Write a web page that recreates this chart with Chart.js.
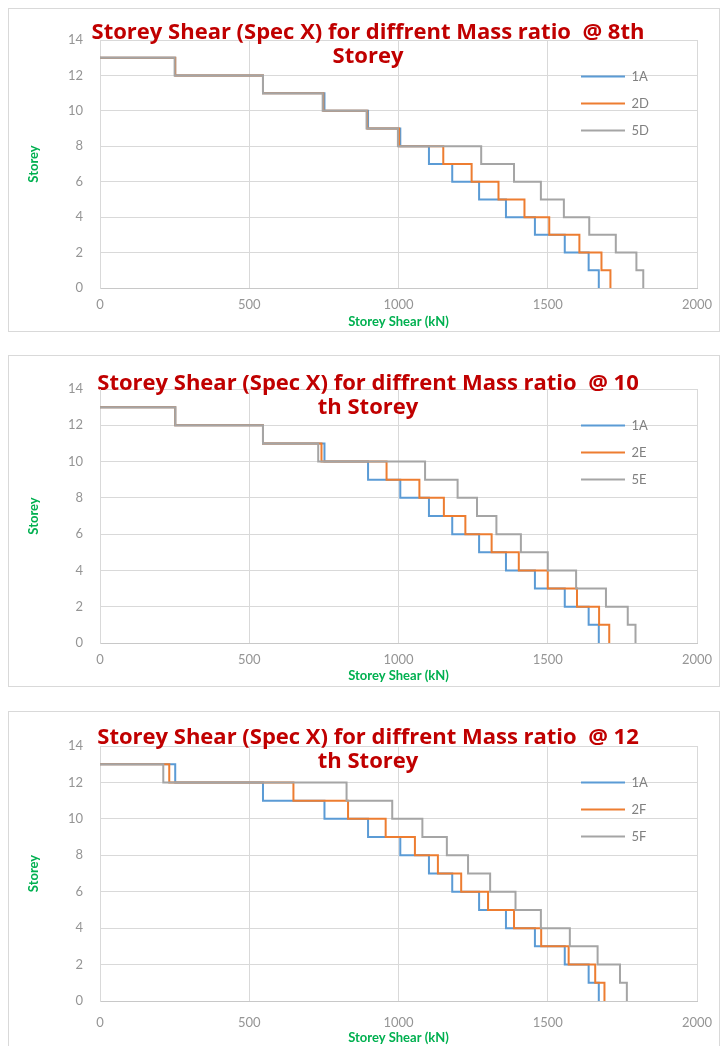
<!DOCTYPE html>
<html>
<head>
<meta charset="utf-8">
<title>Storey Shear (Spec X) for diffrent Mass ratio</title>
<script src="https://cdn.jsdelivr.net/npm/chart.js@4.4.1/dist/chart.umd.min.js"></script>
<style>
  html, body { margin: 0; padding: 0; background: #fff; }
  body { width: 720px; height: 1046px; position: relative; overflow: hidden; }
  .box { position: absolute; left: 8px; width: 712px; border: 1px solid #d9d9d9; box-sizing: border-box; background: #fff; }
  .box canvas { display: block; }
</style>
</head>
<body>
<div class="box" style="top:8px;height:324px"><canvas id="chart8"></canvas></div>
<div class="box" style="top:355px;height:332px"><canvas id="chart10"></canvas></div>
<div class="box" style="top:711px;height:345px"><canvas id="chart12"></canvas></div>
<script>
// Roof level: every line starts here at 0 kN
const roofStorey = 13;
// Storey reached after each step down
const storeys = [12, 11, 10, 9, 8, 7, 6, 5, 4, 3, 2, 1, 0];

// Storey shear (kN) where each step drops, top to bottom
const shear1A = [252, 546, 752, 898, 1006, 1102, 1180, 1270, 1360, 1457, 1557, 1637, 1671];
const shear2D = [252, 546, 748, 895, 1002, 1150, 1245, 1335, 1422, 1505, 1606, 1680, 1710];
const shear5D = [250, 546, 746, 893, 998, 1277, 1387, 1477, 1554, 1639, 1728, 1797, 1820];
const shear2E = [252, 546, 742, 960, 1070, 1152, 1224, 1312, 1403, 1500, 1598, 1672, 1706];
const shear5E = [252, 546, 731, 1089, 1198, 1263, 1328, 1410, 1500, 1595, 1695, 1768, 1794];
const shear2F = [232, 648, 831, 957, 1055, 1132, 1210, 1300, 1387, 1478, 1570, 1659, 1690];
const shear5F = [212, 826, 979, 1080, 1162, 1233, 1307, 1392, 1477, 1574, 1667, 1742, 1765];

const xTicks = [0, 500, 1000, 1500, 2000];
const yTicks = [0, 2, 4, 6, 8, 10, 12, 14];

const colors = ['#5B9BD5', '#ED7D31', '#A5A5A5'];

Chart.defaults.font.family = 'Lato';
Chart.defaults.animation = false;

function stepPoints(shear) {
    const pts = [{ x: 0, y: roofStorey }];
    storeys.forEach((s, i) => pts.push({ x: shear[i], y: s }));
    return pts;
}

// Legend inside the plot (top right) and title nudged right, like the Excel chart
const excelPlacement = {
    id: 'excelPlacement',
    afterLayout(chart) {
        const lg = chart.legend;
        const area = chart.chartArea;
        lg.left = area.right - 130;
        lg.right = area.right;
        lg.top = area.top + 16;
        lg.bottom = area.bottom;
        chart.titleBlock.left = 0;
        chart.titleBlock.right = chart.width + 8;
    }
};

function makeChart(id, titleLines, labels, series, lay) {
    const ctx = document.getElementById(id).getContext('2d');
    return new Chart(ctx, {
        type: 'scatter',
        data: {
            datasets: series.map((s, i) => ({
                label: labels[i],
                data: stepPoints(s),
                showLine: true,
                stepped: true,
                borderColor: colors[i],
                backgroundColor: colors[i],
                borderWidth: 2,
                pointRadius: 0,
                pointHoverRadius: 0,
                order: series.length - i
            }))
        },
        options: {
            responsive: true,
            maintainAspectRatio: false,
            layout: { padding: { left: 0, right: 22, top: 0, bottom: 0 } },
            plugins: {
                title: {
                    display: true,
                    text: titleLines,
                    color: '#C00000',
                    font: { family: 'Open Sans', size: 22, weight: 'bold', lineHeight: 24 / 22 },
                    padding: { top: lay.titlePad, bottom: lay.plotTop - 48 - lay.titlePad }
                },
                legend: {
                    position: 'chartArea',
                    align: 'start',
                    labels: {
                        usePointStyle: true,
                        pointStyle: 'line',
                        pointStyleWidth: 44,
                        padding: 14,
                        color: '#808080',
                        font: { size: 13 },
                        sort: (a, b) => a.datasetIndex - b.datasetIndex
                    }
                },
                tooltip: { enabled: false }
            },
            scales: {
                x: {
                    type: 'linear',
                    min: xTicks[0],
                    max: xTicks[xTicks.length - 1],
                    ticks: { stepSize: xTicks[1] - xTicks[0], color: '#959595', font: { size: 13 }, padding: lay.xTickPad, callback: v => String(v) },
                    grid: { color: '#d9d9d9', drawTicks: false },
                    border: { color: '#c8c8c8' },
                    title: {
                        display: true,
                        text: 'Storey Shear (kN)',
                        color: '#00B050',
                        font: { size: 13, weight: 'bold' },
                        padding: { top: 0, bottom: lay.xTitlePad }
                    },
                    afterFit: s => { s.height = lay.xHeight; s.paddingLeft = 0; s.paddingRight = 0; }
                },
                y: {
                    min: yTicks[0],
                    max: yTicks[yTicks.length - 1],
                    ticks: { stepSize: yTicks[1] - yTicks[0], color: '#959595', font: { size: 13 }, padding: 17, callback: v => String(v) },
                    grid: { color: '#d9d9d9', drawTicks: false },
                    border: { color: '#d9d9d9' },
                    title: {
                        display: true,
                        text: 'Storey',
                        color: '#00B050',
                        font: { size: 13, weight: 'bold' },
                        padding: { top: 17, bottom: 0 }
                    },
                    afterFit: s => { s.width = 91; s.paddingTop = 0; s.paddingBottom = 0; }
                }
            }
        },
        plugins: [excelPlacement]
    });
}

// 8th storey
makeChart('chart8',
    ['Storey Shear (Spec X) for diffrent Mass ratio  @ 8th', 'Storey'],
    ['1A', '2D', '5D'], [shear1A, shear2D, shear5D],
    { titlePad: 12, plotTop: 31, xHeight: 43, xTickPad: 9, xTitlePad: 1 });

// 10th storey
makeChart('chart10',
    ['Storey Shear (Spec X) for diffrent Mass ratio  @ 10', 'th Storey'],
    ['1A', '2E', '5E'], [shear1A, shear2E, shear5E],
    { titlePad: 16, plotTop: 33, xHeight: 43, xTickPad: 9, xTitlePad: 2 });

// 12th storey
makeChart('chart12',
    ['Storey Shear (Spec X) for diffrent Mass ratio  @ 12', 'th Storey'],
    ['1A', '2F', '5F'], [shear1A, shear2F, shear5F],
    { titlePad: 14, plotTop: 34, xHeight: 54, xTickPad: 14, xTitlePad: 9 });
</script>
</body>
</html>
